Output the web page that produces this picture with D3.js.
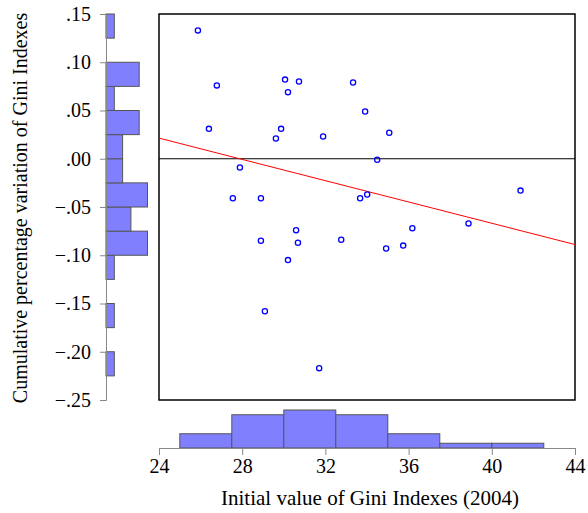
<!DOCTYPE html>
<html>
<head>
<meta charset="UTF-8">
<title>Gini scatter</title>
<script src="https://d3js.org/d3.v7.min.js"></script>
<style>
  body { margin: 0; background: #fff; }
</style>
</head>
<body>
<div id="chart"></div>
<script>
// initial Gini index (2004) and cumulative percentage variation
var giniInitial = [25.87, 26.78, 30.06, 30.73, 33.33, 30.20, 33.91, 26.40, 29.87, 29.62,
                   31.89, 35.07, 34.49, 27.89, 27.55, 28.90, 33.67, 34.01, 41.38, 30.59,
                   28.90, 30.68, 32.76, 30.20, 29.09, 31.70, 36.18, 35.74, 34.92, 38.88];
var giniVariation = [0.133, 0.076, 0.082, 0.080, 0.079, 0.069, 0.049, 0.031, 0.031, 0.021,
                     0.023, 0.027, -0.001, -0.009, -0.041, -0.041, -0.041, -0.037, -0.033, -0.074,
                     -0.085, -0.087, -0.084, -0.105, -0.158, -0.217, -0.072, -0.090, -0.093, -0.067];
var xTicks = [24, 28, 32, 36, 40, 44];
var yTicks = [0.15, 0.10, 0.05, 0.00, -0.05, -0.10, -0.15, -0.20, -0.25];
var xBinEdges = [25, 27.5, 30, 32.5, 35, 37.5, 40, 42.5];
var yBinEdges = d3.range(0, 17).map(function(i) { return -0.25 + i * 0.025; });

var serif = "'Liberation Serif'";
var width = 588, height = 513;
var svg = d3.select('#chart').append('svg')
    .attr('width', width).attr('height', height);

var x = d3.scaleLinear().domain([24, 44]).range([159, 575]);
var y = d3.scaleLinear().domain([-0.25, 0.15]).range([400, 14]);

var points = giniInitial.map(function(g, i) { return { x: g, y: giniVariation[i] }; });

// plot frame
svg.append('rect')
    .attr('x', x(24)).attr('y', y(0.15))
    .attr('width', x(44) - x(24)).attr('height', y(-0.25) - y(0.15))
    .attr('fill', 'none').attr('stroke', '#000').attr('stroke-width', 1.5);

// zero line
svg.append('line')
    .attr('x1', x(24)).attr('x2', x(44))
    .attr('y1', y(0)).attr('y2', y(0))
    .attr('stroke', '#000').attr('stroke-width', 1);

// least squares fit
var mx = d3.mean(points, function(d) { return d.x; });
var my = d3.mean(points, function(d) { return d.y; });
var sxy = d3.sum(points, function(d) { return (d.x - mx) * (d.y - my); });
var sxx = d3.sum(points, function(d) { return (d.x - mx) * (d.x - mx); });
var slope = sxy / sxx, icpt = my - slope * mx;
svg.append('line')
    .attr('x1', x(24)).attr('x2', x(44))
    .attr('y1', y(icpt + slope * 24)).attr('y2', y(icpt + slope * 44))
    .attr('stroke', '#ff0000').attr('stroke-width', 1);

svg.append('g').selectAll('circle')
    .data(points)
    .enter().append('circle')
    .attr('cx', function(d) { return x(d.x); })
    .attr('cy', function(d) { return y(d.y); })
    .attr('r', 2.6)
    .attr('fill', 'none')
    .attr('stroke', '#0000ff')
    .attr('stroke-width', 1.3);

// left histogram
var yBins = d3.bin().domain([-0.25, 0.15]).thresholds(yBinEdges.slice(1, -1))(giniVariation);
var cx = d3.scaleLinear().domain([0, 5]).range([106, 147.5]);
svg.append('g').selectAll('rect')
    .data(yBins.filter(function(b) { return b.length > 0; }))
    .enter().append('rect')
    .attr('x', cx(0))
    .attr('y', function(b) { return y(b.x1); })
    .attr('width', function(b) { return cx(b.length) - cx(0); })
    .attr('height', function(b) { return y(b.x0) - y(b.x1); })
    .attr('fill', '#8080ff').attr('stroke', '#555').attr('stroke-width', 1);

var yAxis = svg.append('g')
    .attr('transform', 'translate(106,0)')
    .call(d3.axisLeft(y).tickValues(yTicks).tickSize(6).tickPadding(9)
        .tickFormat(function(d) { return d3.format('.2f')(d).replace('0.', '.'); }));
yAxis.selectAll('path, line').attr('stroke', '#888');
yAxis.selectAll('text').attr('fill', '#000')
    .style('font-family', serif).style('font-size', '20px');

// bottom histogram
var xBins = d3.bin().domain([25, 42.5]).thresholds(xBinEdges.slice(1, -1))(giniInitial);
var cy = d3.scaleLinear().domain([0, 8]).range([448, 410]);
svg.append('g').selectAll('rect')
    .data(xBins.filter(function(b) { return b.length > 0; }))
    .enter().append('rect')
    .attr('x', function(b) { return x(b.x0); })
    .attr('y', function(b) { return cy(b.length); })
    .attr('width', function(b) { return x(b.x1) - x(b.x0); })
    .attr('height', function(b) { return cy(0) - cy(b.length); })
    .attr('fill', '#8080ff').attr('stroke', '#555').attr('stroke-width', 1);

var xAxis = svg.append('g')
    .attr('transform', 'translate(0,448)')
    .call(d3.axisBottom(x).tickValues(xTicks).tickSize(7).tickPadding(4).tickFormat(d3.format('d')));
xAxis.selectAll('path, line').attr('stroke', '#888');
xAxis.selectAll('text').attr('fill', '#000')
    .style('font-family', serif).style('font-size', '20px');

// axis titles
svg.append('text')
    .attr('x', 370).attr('y', 505)
    .attr('text-anchor', 'middle')
    .style('font-family', serif).style('font-size', '21px')
    .text('Initial value of Gini Indexes (2004)');

svg.append('text')
    .attr('transform', 'translate(27,208) rotate(-90)')
    .attr('text-anchor', 'middle')
    .style('font-family', serif).style('font-size', '20px')
    .text('Cumulative percentage variation of Gini Indexes');
</script>
</body>
</html>
